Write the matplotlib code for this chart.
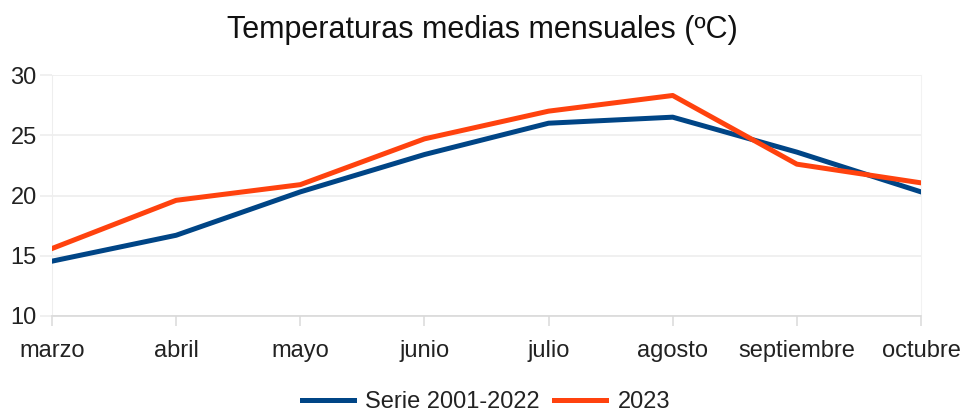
import matplotlib
matplotlib.use("Agg")
import matplotlib.pyplot as plt

meses = ["marzo", "abril", "mayo", "junio", "julio", "agosto", "septiembre", "octubre"]
serie_2001_2022 = [14.55, 16.7, 20.3, 23.4, 26.0, 26.5, 23.6, 20.3]
serie_2023 = [15.6, 19.6, 20.9, 24.7, 27.0, 28.3, 22.6, 21.05]
y_ticks = [10, 15, 20, 25, 30]

plt.rcParams['font.family'] = ['Liberation Sans', 'DejaVu Sans']

fig = plt.figure(figsize=(9.65, 4.12), dpi=100)
ax = fig.add_axes([52/965, 1-316/412, (921-52)/965, (316-75)/412])

x = list(range(len(meses)))
ax.plot(x, serie_2001_2022, color="#004586", lw=3.6, label="Serie 2001-2022", solid_joinstyle="round", zorder=3)
ax.plot(x, serie_2023, color="#ff420e", lw=3.6, label="2023", solid_joinstyle="round", zorder=4)

ax.set_xlim(0, len(meses)-1)
ax.set_ylim(10, 30)
ax.set_yticks(y_ticks)
ax.set_xticks(x)
ax.set_xticklabels(meses)
ax.grid(axis="y", color="#eeeeee", lw=1.2)
ax.tick_params(axis="y", length=9, color="#eeeeee", width=1.2, labelsize=17, pad=2, labelcolor="#222222")
ax.tick_params(axis="x", length=7, color="#dddddd", width=1.2, labelsize=17, pad=10, labelcolor="#222222")
ax.spines["top"].set_visible(False)
ax.spines["left"].set_color("#eeeeee")
ax.spines["right"].set_color("#f2f2f2")
ax.spines["bottom"].set_color("#d9d9d9")
ax.spines["bottom"].set_linewidth(1.2)

fig.text(0.5, 1-30/412, "Temperaturas medias mensuales (ºC)", ha="center", va="center", fontsize=22, color="#111111")

leg = fig.legend(loc="center", bbox_to_anchor=(486/965, 1-402/412), ncol=2, frameon=False,
                 fontsize=17, handlelength=2.2, columnspacing=0.6, handletextpad=0.5)
for t in leg.get_texts():
    t.set_color("#222222")

fig.savefig("out.png", dpi=100)
